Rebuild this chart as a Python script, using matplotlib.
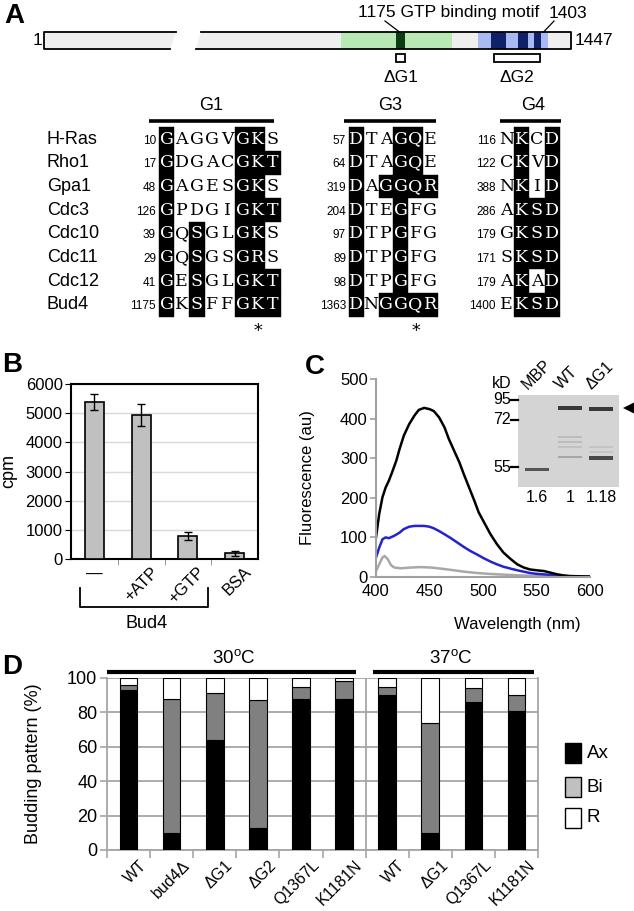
import numpy as np
import matplotlib
matplotlib.use('Agg')
import matplotlib.pyplot as plt
from matplotlib.patches import Rectangle, Polygon

plt.rcParams['font.family'] = ['Liberation Sans', 'DejaVu Sans']
plt.rcParams['mathtext.fontset'] = 'custom'
plt.rcParams['mathtext.rm'] = 'Liberation Sans'

W, H = 634, 911

# ---------------- panel A data ----------------
protein_len = 1447
motif_ends = (1175, 1403)
green_domain = (1081, 1258)
g1_stripe = (1169, 1183)
blue_domain = (1299, 1410)
blue_stripes = [(1320, 1344), (1363, 1379), (1388, 1399)]
del_names = ['ΔG1', 'ΔG2']
del_ranges = [(1169, 1183), (1325, 1398)]

proteins = ['H-Ras', 'Rho1', 'Gpa1', 'Cdc3', 'Cdc10', 'Cdc11', 'Cdc12', 'Bud4']
g1_start = [10, 17, 48, 126, 39, 29, 41, 1175]
g1_seq = ['GAGGVGKS', 'GDGACGKT', 'GAGESGKS', 'GPDGIGKT',
          'GQSGLGKS', 'GQSGSGRS', 'GESGLGKT', 'GKSFFGKT']
g1_mask = ['10000110', '10000111', '10000110', '10000111',
           '10100110', '10100110', '10100111', '10100111']
g3_start = [57, 64, 319, 204, 97, 89, 98, 1363]
g3_seq = ['DTAGQE', 'DTAGQE', 'DAGGQR', 'DTEGFG',
          'DTPGFG', 'DTPGFG', 'DTPGFG', 'DNGGQR']
g3_mask = ['100110', '100110', '101111', '100100',
           '100100', '100100', '100100', '101111']
g4_start = [116, 122, 388, 286, 179, 171, 179, 1400]
g4_seq = ['NKCD', 'CKVD', 'NKID', 'AKSD', 'GKSD', 'SKSD', 'AKAD', 'EKSD']
g4_mask = ['0101', '0101', '0101', '0111', '0111', '0111', '0101', '0111']
motif_names = ['G1', 'G3', 'G4']
star_cols = [6, 4, None]

# ---------------- panel B data ----------------
b_labels = ['—', '+ATP', '+GTP', 'BSA']
b_cpm = [5380, 4940, 780, 190]
b_err = [280, 390, 130, 90]

# ---------------- panel C data ----------------
wl_black = [400, 403, 406, 409, 412, 415, 419, 422, 426, 431, 436, 440, 445, 450,
            454, 459, 464, 468, 473, 478, 482, 487, 492, 496, 501, 507, 513, 519,
            526, 532, 538, 544, 550, 557, 563, 569, 575, 581, 591, 600]
fl_black = [100, 159, 201, 226, 243, 264, 294, 323, 357, 386, 408, 422, 427, 424,
            419, 403, 378, 349, 319, 289, 260, 226, 192, 163, 138, 108, 83, 62,
            45, 32, 24, 19, 17, 15, 11, 7, 4, 2.5, 1.7, 1]
wl_blue = [400, 403, 406, 409, 412, 417, 422, 426, 431, 436, 440, 445, 450, 454,
           459, 464, 470, 476, 482, 488, 495, 501, 507, 513, 519, 526, 532, 538,
           544, 550, 560, 569, 581, 600]
fl_blue = [49, 74, 95, 100, 98, 104, 112, 121, 127, 129, 129, 129, 127, 123,
           116, 108, 98, 87, 76, 66, 56, 47, 39, 32, 26, 21, 17, 13.5,
           10, 8, 6, 3.4, 1.7, 1]
wl_gray = [400, 403, 406, 408, 411, 414, 417, 423, 433, 442, 451, 461, 470, 482,
           495, 507, 519, 535, 550, 569, 600]
fl_gray = [15, 32, 49, 53, 45, 30, 24, 22, 24, 25, 24, 21, 18, 13.5,
           10, 7.6, 6, 4, 2.5, 1.7, 1]

# gel inset
lanes = ['MBP', 'WT', 'ΔG1']
lane_ratio = ['1.6', '1', '1.18']
markers_kd = ['95', '72', '55']
marker_y = [400, 420, 467]
# (lane, y, thickness, grey level)
bands = [(0, 469, 3.0, '#555555'),
         (1, 408, 3.5, '#383838'), (1, 437, 1.5, '#bcbcbc'), (1, 442, 1.5, '#bcbcbc'),
         (1, 447, 1.5, '#c2c2c2'), (1, 457, 2.0, '#a6a6a6'),
         (2, 409, 3.5, '#383838'), (2, 447, 1.5, '#c4c4c4'), (2, 452, 1.5, '#c4c4c4'),
         (2, 458, 4.0, '#484848')]

# ---------------- panel D data ----------------
d_labels = ['WT', 'bud4Δ', 'ΔG1', 'ΔG2', 'Q1367L', 'K1181N',
            'WT', 'ΔG1', 'Q1367L', 'K1181N']
d_axial = [93, 10, 64, 13, 88, 88, 90, 10, 86, 81]
d_bipolar = [3, 78, 27, 74, 7, 10, 5, 64, 8, 9]
d_random = [4, 12, 9, 13, 5, 2, 5, 26, 6, 10]
temps = ['30$^\\mathregular{o}$C', '37$^\\mathregular{o}$C']

fig = plt.figure(figsize=(W / 100, H / 100), dpi=100)
cv = fig.add_axes([0, 0, 1, 1])
cv.set_xlim(0, W)
cv.set_ylim(H, 0)
cv.axis('off')
cv.set_zorder(10)
cv.patch.set_alpha(0)


def px_axes(l, t, r, b):
    return fig.add_axes([l / W, 1 - b / H, (r - l) / W, (b - t) / H])


FS = 12.5

# ---------------- panel A ----------------
top, bot = 32.3, 49.3
x_end = 571
ppr = 0.629


def rx(res):
    return x_end - (protein_len - res) * ppr


cv.add_patch(Polygon([(44, top), (176, top), (170, bot), (44, bot)], closed=True,
                     fc='#efefef', ec='none'))
cv.add_patch(Polygon([(201, top), (x_end, top), (x_end, bot), (196, bot)], closed=True,
                     fc='#efefef', ec='none'))
cv.add_patch(Rectangle((rx(green_domain[0]), top), rx(green_domain[1]) - rx(green_domain[0]),
                       bot - top, fc='#b8e8b4', ec='none'))
cv.add_patch(Rectangle((rx(g1_stripe[0]), top), rx(g1_stripe[1]) - rx(g1_stripe[0]),
                       bot - top, fc='#0a3d12', ec='none'))
cv.add_patch(Rectangle((rx(blue_domain[0]), top), rx(blue_domain[1]) - rx(blue_domain[0]),
                       bot - top, fc='#a9b9f2', ec='none'))
for a, b in blue_stripes:
    cv.add_patch(Rectangle((rx(a), top), rx(b) - rx(a), bot - top, fc='#0f2168', ec='none'))
cv.plot([176, 44, 44, 170], [top, top, bot, bot], color='black', lw=1.3)
cv.plot([201, x_end, x_end, 196], [top, top, bot, bot], color='black', lw=1.3)
cv.text(42, (top + bot) / 2, '1', ha='right', va='center', fontsize=FS)
cv.text(x_end + 4, (top + bot) / 2, str(protein_len), ha='left', va='center', fontsize=FS)
cv.text(358, 13, f'{motif_ends[0]} GTP binding motif', ha='left', va='center', fontsize=FS)
cv.text(549, 13, str(motif_ends[1]), ha='left', va='center', fontsize=FS)
cv.plot([385, rx(motif_ends[0])], [21, top], color='black', lw=0.9)
cv.plot([554, rx(motif_ends[1])], [21, top], color='black', lw=0.9)
for name, (a, b) in zip(del_names, del_ranges):
    cv.add_patch(Rectangle((rx(a), 54), rx(b) - rx(a), 8, fc='white', ec='black', lw=1.3))
    cv.text((rx(a) + rx(b)) / 2, 77, name, ha='center', va='center', fontsize=FS)

# alignment
row_y0, row_dy = 139, 23.7
groups = [(g1_start, g1_seq, g1_mask, 156, 159, 15.2, (149, 274), 211),
          (g3_start, g3_seq, g3_mask, 346, 349, 14.8, (344, 436), 390),
          (g4_start, g4_seq, g4_mask, 496, 499, 15.2, (500, 561), 533)]
for i, p in enumerate(proteins):
    cv.text(47, row_y0 + i * row_dy, p, ha='left', va='center', fontsize=13)
for gi, (starts, seqs, masks, num_r, c0, pitch, (l0, l1), hx) in enumerate(groups):
    cv.text(hx, 106, motif_names[gi], ha='center', va='center', fontsize=13)
    cv.plot([l0, l1], [121, 121], color='black', lw=2.6, solid_capstyle='butt')
    for i in range(len(proteins)):
        yc = row_y0 + i * row_dy
        cv.text(num_r, yc + 1.5, str(starts[i]), ha='right', va='center', fontsize=8.5)
        for j, (ch, m) in enumerate(zip(seqs[i], masks[i])):
            xc = c0 + (j + 0.5) * pitch
            if m == '1':
                cv.add_patch(Rectangle((c0 + j * pitch, yc - row_dy / 2), pitch, row_dy,
                                       fc='black', ec='black', lw=0.3))
            cv.text(xc, yc, ch, ha='center', va='center', fontsize=12.5,
                    family='DejaVu Serif', color='white' if m == '1' else 'black')
    if star_cols[gi] is not None:
        cv.text(c0 + (star_cols[gi] + 0.5) * pitch, 331, '*', ha='center', va='center',
                fontsize=13, family='DejaVu Sans Mono')

# ---------------- panel B ----------------
axb = px_axes(71, 384, 258, 559)
xb = np.arange(len(b_labels))
axb.bar(xb, b_cpm, width=0.41, yerr=b_err, color='#c0c0c0', edgecolor='black',
        linewidth=1.2, capsize=3, error_kw=dict(elinewidth=1, ecolor='black', capthick=1),
        zorder=3)
axb.set_xlim(-0.5, 3.5)
axb.set_ylim(0, 6000)
axb.set_yticks(range(0, 6001, 1000))
axb.yaxis.grid(True, color='#d9d9d9', lw=1)
axb.set_axisbelow(True)
axb.set_xticks([])
axb.set_xticks([0.5, 1.5, 2.5], minor=True)
axb.tick_params(axis='x', which='minor', length=4, color='#888888')
axb.tick_params(axis='y', length=4, labelsize=12, pad=2)
for s in axb.spines.values():
    s.set_linewidth(1.5)
axb.set_ylabel('cpm', fontsize=13)
axb.yaxis.set_label_coords(-0.285, 0.5)
for i, lab in enumerate(b_labels):
    if i == 0:
        axb.text(i, -0.09, lab, transform=axb.get_xaxis_transform(), ha='center',
                 va='center', fontsize=12)
    else:
        axb.text(i + 0.2, -0.03, lab, transform=axb.get_xaxis_transform(), ha='right',
                 va='top', rotation=45, rotation_mode='anchor', fontsize=12)
cv.plot([80, 80, 208, 208], [588, 607, 607, 588], color='black', lw=1.3)
cv.text(147, 624, 'Bud4', ha='center', va='center', fontsize=13)

# ---------------- panel C ----------------
axc = px_axes(376, 379, 590, 577)
axc.plot(wl_gray, fl_gray, color='#a8a8a8', lw=1.8)
axc.plot(wl_blue, fl_blue, color='#2323cf', lw=1.8)
axc.plot(wl_black, fl_black, color='black', lw=1.8)
axc.set_xlim(400, 600)
axc.set_ylim(0, 500)
axc.set_xticks(range(400, 601, 50))
axc.set_yticks(range(0, 501, 100))
for s in ['top', 'right']:
    axc.spines[s].set_visible(False)
for s in ['left', 'bottom']:
    axc.spines[s].set_color('#a0a0a0')
    axc.spines[s].set_linewidth(1.5)
axc.tick_params(axis='y', color='#a0a0a0', length=4, width=1.2, labelsize=12, pad=2)
axc.tick_params(axis='x', length=0, labelsize=12, pad=5)
axc.set_ylabel('Fluorescence (au)', fontsize=12)
axc.yaxis.set_label_coords(-0.285, 0.5)
axc.set_xlabel('Wavelength (nm)', fontsize=12)
axc.xaxis.set_label_coords(0.66, -0.2)

# gel inset
lane_x = [537, 570, 601]
cv.add_patch(Rectangle((518, 395), 101, 92, fc='#d4d4d4', ec='none'))
for ln, y, th, col in bands:
    cv.add_patch(Rectangle((lane_x[ln] - 12, y - th / 2), 24, th, fc=col, ec='none'))
for lab, y in zip(markers_kd, marker_y):
    cv.text(511, y, lab, ha='right', va='center', fontsize=11.5)
    cv.plot([511, 518], [y, y], color='black', lw=1.6)
cv.text(502, 383, 'kD', ha='center', va='center', fontsize=11.5)
for x, lab, r in zip(lane_x, lanes, lane_ratio):
    cv.text(x - 7, 392, lab, ha='left', va='bottom', rotation=45,
            rotation_mode='anchor', fontsize=11.5)
    cv.text(x, 498, r, ha='center', va='center', fontsize=11.5)
cv.add_patch(Polygon([(623, 408), (634, 402.5), (634, 413.5)], closed=True,
                     fc='black', ec='none'))

# ---------------- panel D ----------------
axd = px_axes(107, 678, 538, 850)
xd = np.arange(len(d_labels))
ax_arr = np.array(d_axial)
bi_arr = np.array(d_bipolar)
axd.bar(xd, d_axial, width=0.41, color='black', edgecolor='black', lw=0.8, zorder=3)
axd.bar(xd, d_bipolar, width=0.41, bottom=ax_arr, color='#808080', edgecolor='black',
        lw=0.8, zorder=3)
axd.bar(xd, d_random, width=0.41, bottom=ax_arr + bi_arr, color='white',
        edgecolor='black', lw=0.8, zorder=3)
axd.set_xlim(-0.5, 9.5)
axd.set_ylim(0, 100)
axd.set_yticks(range(0, 101, 20))
axd.yaxis.grid(True, color='#a6a6a6', lw=1.3)
axd.set_axisbelow(True)
axd.axvline(5.5, color='#a6a6a6', lw=1.3, zorder=1)
axd.spines['top'].set_visible(False)
for s in ['left', 'right', 'bottom']:
    axd.spines[s].set_color('#a6a6a6')
    axd.spines[s].set_linewidth(1.3)
axd.set_xticks([])
axd.set_xticks(np.arange(-0.5, 10, 1), minor=True)
axd.tick_params(axis='x', which='minor', length=6, width=1.2, color='#a6a6a6')
axd.tick_params(axis='y', length=5, width=1.2, color='#a6a6a6', labelsize=13, pad=2)
axd.set_ylabel('Budding pattern (%)', fontsize=13)
axd.yaxis.set_label_coords(-0.15, 0.5)
for i, lab in enumerate(d_labels):
    axd.text(i + 0.24, -0.045, lab, transform=axd.get_xaxis_transform(), ha='right',
             va='top', rotation=45, rotation_mode='anchor', fontsize=11.5)

cv.plot([107, 356], [672, 672], color='black', lw=3, solid_capstyle='butt')
cv.plot([373, 534], [672, 672], color='black', lw=3, solid_capstyle='butt')
cv.text(234, 659, temps[0], ha='center', va='center', fontsize=13.5)
cv.text(451, 659, temps[1], ha='center', va='center', fontsize=13.5)

leg_names = ['Ax', 'Bi', 'R']
leg_cols = ['black', '#c0c0c0', 'white']
leg_y = [743, 777, 808]
for name, col, y in zip(leg_names, leg_cols, leg_y):
    cv.add_patch(Rectangle((565, y), 16, 20, fc=col, ec='black', lw=1))
    cv.text(587, y + 10, name, ha='left', va='center', fontsize=13.5)

# panel letters
for lab, x, y in [('A', 4, 16), ('B', 2, 365), ('C', 305, 367), ('D', 2, 667)]:
    cv.text(x, y, lab, ha='left', va='center', fontsize=20, fontweight='bold')

fig.savefig('out.png', dpi=100)
